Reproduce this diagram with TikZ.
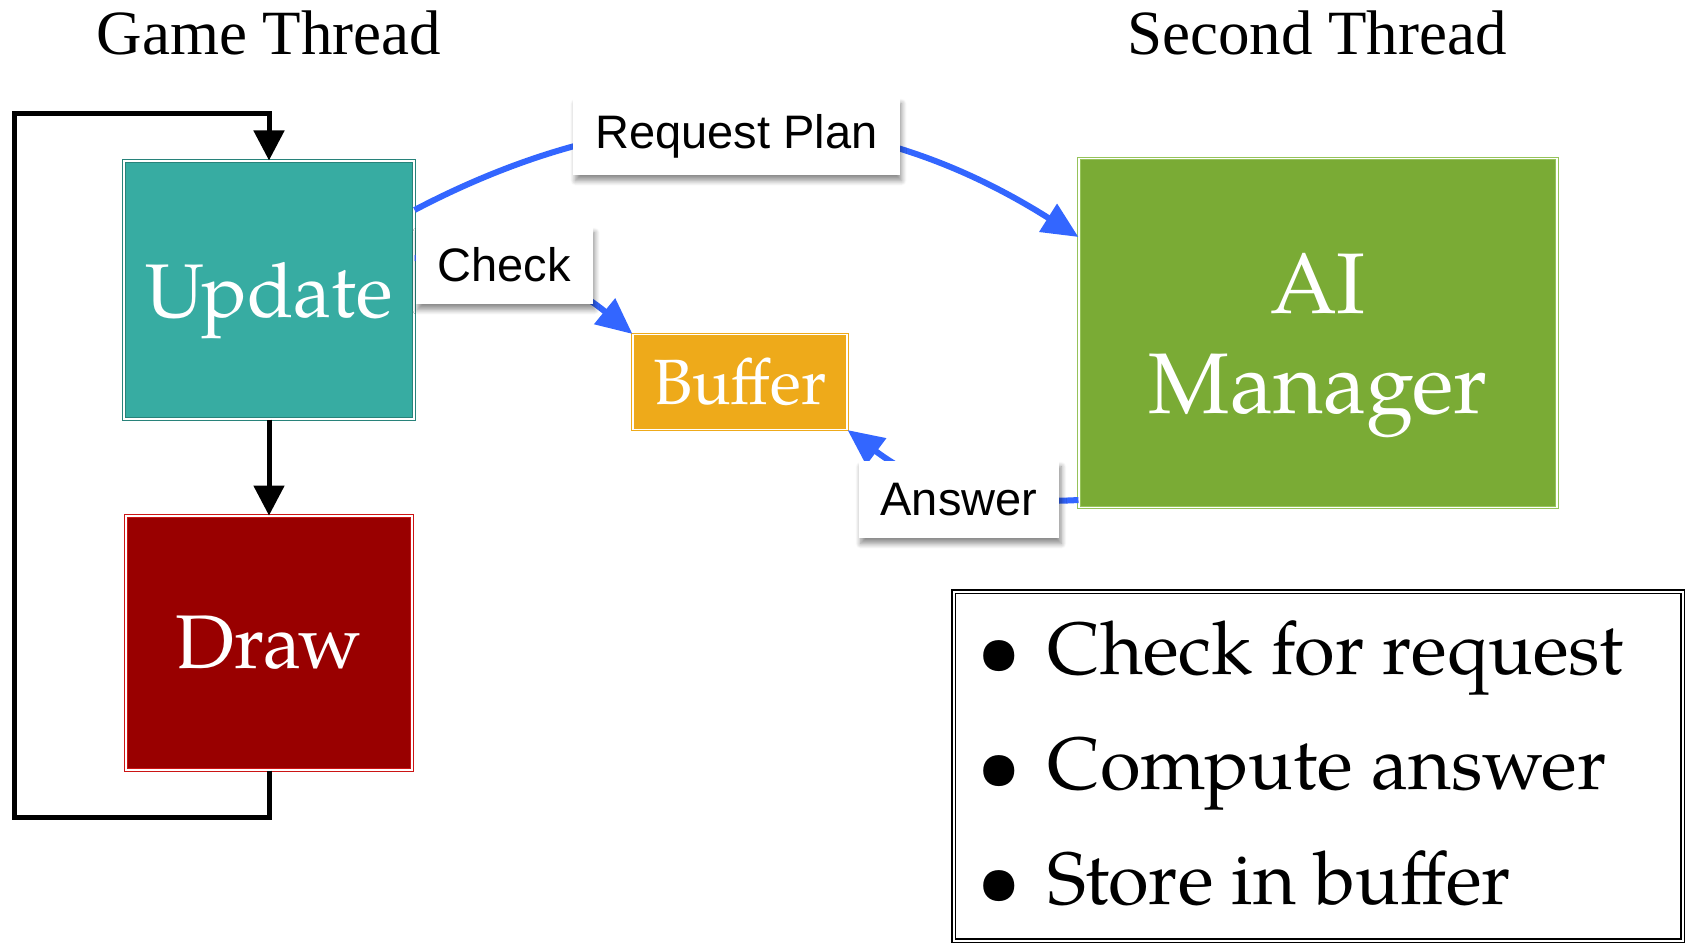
\documentclass[tikz,border=0pt]{standalone}
\usepackage{fontspec}
\setmainfont{Liberation Serif}
\newfontfamily\pala{TeX Gyre Pagella}
\newfontfamily\helv{Liberation Sans}
\usepackage{tikz}
\usetikzlibrary{arrows.meta, positioning, shadows.blur}
\definecolor{updfill}{RGB}{55,172,162}
\definecolor{upddraw}{RGB}{40,130,122}
\definecolor{drwfill}{RGB}{153,0,0}
\definecolor{drwdraw}{RGB}{204,20,20}
\definecolor{buffill}{RGB}{238,170,26}
\definecolor{aifill}{RGB}{122,171,53}
\definecolor{aidraw}{RGB}{150,195,90}
\definecolor{reqblue}{RGB}{51,102,255}
\newcommand{\bigdot}{\makebox[70pt][l]{\raisebox{-1pt}{\scalebox{1.05}{\textbullet}}}}

\begin{document}
\begin{tikzpicture}[x=1pt, y=1pt,
	box/.style={double=white, double distance=1.6pt, line width=1.1pt, text=white, inner sep=0pt, font=\pala},
	lbl/.style={fill=white, text=black, inner xsep=22pt, minimum height=77pt, font=\helv\fontsize{47}{47}\selectfont,
		blur shadow={shadow xshift=2pt, shadow yshift=-6pt, shadow blur radius=5pt, shadow blur steps=8, shadow opacity=45}},
	ctrl/.style={line width=5pt, -{Triangle[length=30pt, width=30pt]}},
	req/.style={color=reqblue, line width=6pt, -{Triangle[length=36pt, width=32pt]}}]
	\useasboundingbox (0,0) rectangle (1686,-943);
	% threads
	\node[font=\fontsize{63}{63}\selectfont] (gt) at (269,-33) {Game Thread};
	\node[font=\fontsize{63}{63}\selectfont] (st) at (1317,-33) {Second Thread};
	% game loop
	\node[box, fill=updfill, draw=upddraw, minimum width=290pt, minimum height=258pt, text depth=0pt,
		font=\pala\fontsize{76}{76}\selectfont] (upd) at (269,-290) {Update};
	\node[box, fill=drwfill, draw=drwdraw, minimum width=286pt, minimum height=254pt,
		font=\pala\fontsize{76}{76}\selectfont, below=96pt of upd] (drw) {Draw};
	\node[box, fill=buffill, draw=buffill, minimum width=214pt, minimum height=95pt,
		font=\pala\fontsize{64}{64}\selectfont] (buf) at (740,-382) {Buffer};
	\node[box, fill=aifill, draw=aidraw, minimum width=478pt, minimum height=349pt, align=center, text depth=0pt,
		font=\pala\fontsize{86}{100}\selectfont] (ai) at (1318,-333) {AI\\Manager};
	\coordinate (lp) at (14,-817);
	\coordinate (lq) at (14,-113);
	\draw[ctrl] (upd) -- (drw);
	\draw[ctrl, line join=miter] (drw.south) |- (lp) -- (lq) -| (upd.north);
	% requests
	\path[req]
	([yshift=80pt]upd.east) edge[bend left=30] node[lbl, xshift=-14pt, yshift=-10pt] {Request Plan} ([yshift=96pt]ai.west)
	([yshift=32pt]upd.east) edge[bend left=20] node[lbl, xshift=-27pt, yshift=9pt] {Check} (buf.north west)
	([yshift=-167pt]ai.west) edge[bend left=20] node[lbl, xshift=3pt, yshift=-11pt] {Answer} (buf.south east)
	;
	% tasks
	\node[draw, double, double distance=2pt, line width=1.2pt, anchor=north west,
		minimum width=729pt, minimum height=349pt, inner xsep=24pt,
		font=\pala\fontsize{74}{115}\selectfont] (todo) at (953,-591)
	{\raisebox{3pt}[\height][\depth]{\parbox{681pt}{\bigdot Check for request\\
	 \bigdot Compute answer\\
	 \bigdot Store in buffer}}};
\end{tikzpicture}
\end{document}
